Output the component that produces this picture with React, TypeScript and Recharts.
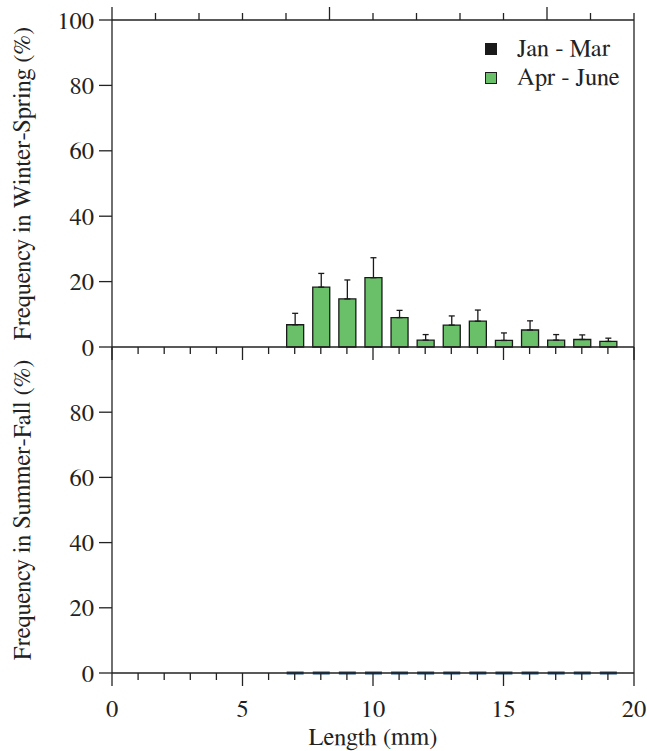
import { BarChart, Bar, ErrorBar, XAxis, YAxis } from 'recharts';

const lengths = [7, 8, 9, 10, 11, 12, 13, 14, 15, 16, 17, 18, 19];
const aprJune = [6.8, 18.3, 14.7, 21.2, 9.0, 2.1, 6.7, 7.9, 2.0, 5.2, 2.1, 2.3, 1.7];
const aprJuneErr = [3.5, 4.2, 5.8, 6.1, 2.2, 1.7, 2.8, 3.4, 2.3, 2.8, 1.7, 1.4, 1.0];
const summerFall = [0, 0, 0, 0, 0, 0, 0, 0, 0, 0, 0, 0, 0];
const xTicks = [0, 1, 2, 3, 4, 5, 6, 7, 8, 9, 10, 11, 12, 13, 14, 15, 16, 17, 18, 19, 20];
const yTicksTop = [0, 20, 40, 60, 80, 100];
const yTicksBottom = [0, 20, 40, 60, 80];
const legendItems = [
  { name: 'Jan - Mar', color: '#1a1a1a' },
  { name: 'Apr - June', color: '#6abf69' },
];

const springData = lengths.map((len, i) => ({ len, value: aprJune[i], err: [0, aprJuneErr[i]] }));
const fallData = lengths.map((len, i) => ({ len, value: summerFall[i] }));

const FONT = "FreeSerif, 'Liberation Serif', serif";
const INK = '#222';
const txt = { fontFamily: FONT, fontSize: 24.5 };

const XTick = (dir: 1 | -1, withLabel: boolean) => (props: any) => {
  const { x, y, payload } = props;
  const major = payload.value % 5 === 0;
  return (
    <g>
      <line x1={x} x2={x} y1={y} y2={y + dir * (major ? 13 : 7)} stroke={INK} strokeWidth={1.3} />
      {withLabel && major && (
        <text x={x} y={y + 44} textAnchor="middle" style={txt} fill={INK}>
          {payload.value}
        </text>
      )}
    </g>
  );
};

const YTick = (dir: 1 | -1, withLabel: boolean) => (props: any) => {
  const { x, y, payload } = props;
  return (
    <g>
      <line x1={x} x2={x + dir * 13} y1={y} y2={y} stroke={INK} strokeWidth={1.3} />
      {withLabel && (
        <text x={x - 18} y={y} dy="0.35em" textAnchor="end" style={txt} fill={INK}>
          {payload.value}
        </text>
      )}
    </g>
  );
};

const yTitle = (text: string) => (props: any) => {
  const vb = props.viewBox;
  const cy = vb.y + vb.height / 2;
  return (
    <text x={30} y={cy} transform={`rotate(-90, 30, ${cy})`} textAnchor="middle" style={txt} fill={INK}>
      {text}
    </text>
  );
};

const xTitle = (text: string) => (props: any) => {
  const vb = props.viewBox;
  return (
    <text x={vb.x + vb.width / 2} y={445} textAnchor="middle" style={txt} fill={INK}>
      {text}
    </text>
  );
};

const ZeroBar = (props: any) => {
  const { x, y, width } = props;
  return <line x1={x} x2={x + width} y1={y} y2={y} stroke="#1b4a78" strokeWidth={3} />;
};

export default function App() {
  return (
    <div style={{ position: 'absolute', left: 0, top: 0, width: 647, height: 751, background: '#fff', fontFamily: FONT }}>
      <div style={{ position: 'absolute', left: 0, top: 300 }}>
        <BarChart width={647} height={451} data={fallData} margin={{ top: 47, right: 0, bottom: 0, left: 52 }}>
          <XAxis
            dataKey="len"
            type="number"
            domain={[0, 20]}
            ticks={xTicks}
            interval={0}
            height={78}
            tickSize={0}
            tickMargin={0}
            tickLine={false}
            axisLine={{ stroke: INK, strokeWidth: 1.3 }}
            tick={XTick(1, true)}
            label={{ content: xTitle('Length (mm)') }}
          />
          <YAxis
            domain={[0, 100]}
            ticks={yTicksBottom}
            interval={0}
            width={60}
            tickSize={0}
            tickMargin={0}
            tickLine={false}
            axisLine={{ stroke: INK, strokeWidth: 1.3 }}
            tick={YTick(-1, true)}
            label={{ content: yTitle('Frequency in Summer-Fall (%)') }}
          />
          <YAxis
            yAxisId="right"
            orientation="right"
            domain={[0, 100]}
            ticks={yTicksBottom}
            interval={0}
            width={13}
            tickSize={0}
            tickMargin={0}
            tickLine={false}
            axisLine={{ stroke: INK, strokeWidth: 1.3 }}
            tick={YTick(1, false)}
          />
          <Bar dataKey="value" barSize={17} shape={ZeroBar} isAnimationActive={false} />
        </BarChart>
      </div>
      <div style={{ position: 'absolute', left: 0, top: 0 }}>
        <BarChart width={647} height={370} data={springData} margin={{ top: 0, right: 0, bottom: 0, left: 52 }}>
          <XAxis
            dataKey="len"
            type="number"
            domain={[0, 20]}
            ticks={xTicks}
            interval={0}
            height={23}
            tickSize={0}
            tickMargin={0}
            tickLine={false}
            axisLine={{ stroke: INK, strokeWidth: 1.3 }}
            tick={XTick(1, false)}
          />
          <XAxis
            xAxisId="top"
            orientation="top"
            type="number"
            domain={[0, 20]}
            ticks={xTicks}
            interval={0}
            height={20}
            tickSize={0}
            tickMargin={0}
            tickLine={false}
            axisLine={{ stroke: INK, strokeWidth: 1.3 }}
            tick={XTick(-1, false)}
          />
          <YAxis
            domain={[0, 100]}
            ticks={yTicksTop}
            interval={0}
            width={60}
            tickSize={0}
            tickMargin={0}
            tickLine={false}
            axisLine={{ stroke: INK, strokeWidth: 1.3 }}
            tick={YTick(-1, true)}
            label={{ content: yTitle('Frequency in Winter-Spring (%)') }}
          />
          <YAxis
            yAxisId="right"
            orientation="right"
            domain={[0, 100]}
            ticks={yTicksTop}
            interval={0}
            width={13}
            tickSize={0}
            tickMargin={0}
            tickLine={false}
            axisLine={{ stroke: INK, strokeWidth: 1.3 }}
            tick={YTick(1, false)}
          />
          <Bar dataKey="value" barSize={17} fill="#6abf69" stroke="#1a1a1a" strokeWidth={1.3} isAnimationActive={false}>
            <ErrorBar dataKey="err" direction="y" width={3} stroke="#1a1a1a" strokeWidth={1.3} />
          </Bar>
        </BarChart>
      </div>
      <div style={{ position: 'absolute', left: 485, top: 34 }}>
        {legendItems.map((item) => (
          <div key={item.name} style={{ display: 'flex', alignItems: 'center', height: 29, fontSize: 24.5, color: INK }}>
            <span
              style={{
                display: 'inline-block',
                width: 10,
                height: 10,
                background: item.color,
                border: '1px solid #1a1a1a',
                marginRight: 20,
              }}
            />
            {item.name}
          </div>
        ))}
      </div>
    </div>
  );
}
